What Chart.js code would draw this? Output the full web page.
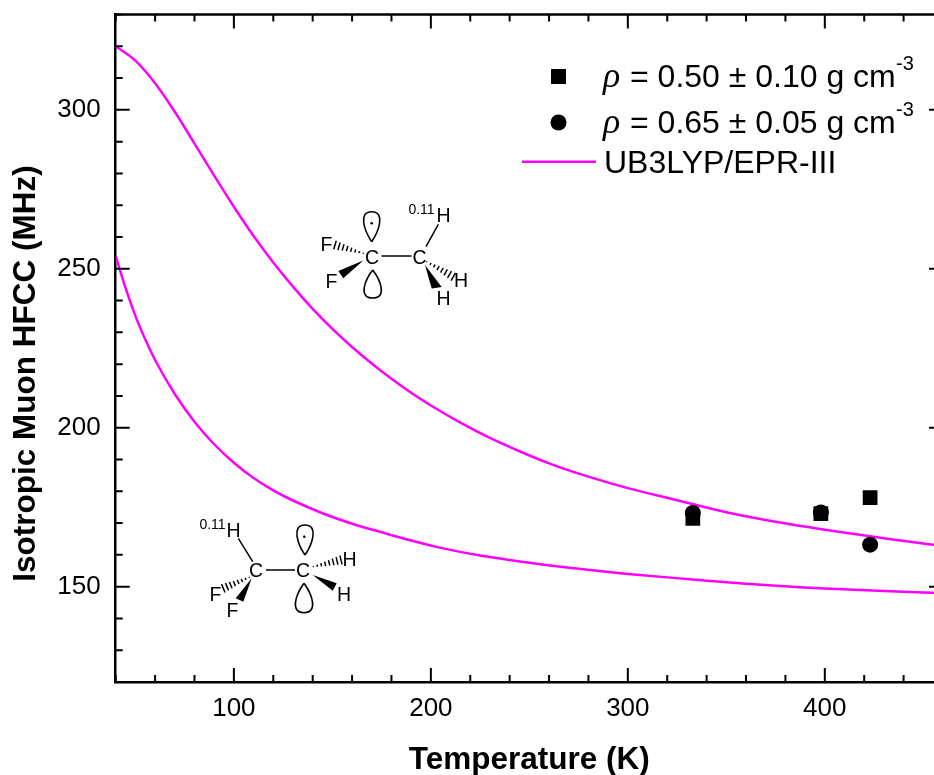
<!DOCTYPE html>
<html>
<head>
<meta charset="utf-8">
<title>Isotropic Muon HFCC</title>
<script src="https://cdn.jsdelivr.net/npm/chart.js@4"></script>
<style>
    html, body { margin: 0; padding: 0; background: #fff; overflow: hidden; }
    #wrap { width: 934px; height: 775px; overflow: hidden; }
    canvas { display: block; }
</style>
</head>
<body>
<div id="wrap"><canvas id="hfcc-chart" width="960" height="775"></canvas></div>
<script>
// values
const squareTemps = [333, 398, 423];
const squareHfcc = [171.5, 173, 178];
const circleTemps = [333, 398, 423];
const circleHfcc = [173.2, 173.3, 163.2];

const upperTemps = [40, 50, 60, 70, 80, 90, 100, 110, 120, 130, 140, 150, 160, 170, 180, 190, 200, 215, 230, 245, 260, 280, 300, 325, 350, 375, 400, 430, 460];
const upperHfcc = [320, 315.5, 308.4, 299.4, 289.4, 279.3, 269.5, 260.3, 252, 244.4, 237.4, 231.1, 225.4, 220.2, 215.4, 211, 207, 201.6, 196.8, 192.6, 188.8, 184.6, 181, 177.2, 173.4, 170.4, 167.9, 165.2, 162.8];
const lowerTemps = [40, 45, 50, 55, 60, 70, 80, 90, 100, 110, 120, 130, 145, 160, 175, 190, 205, 225, 250, 275, 300, 330, 360, 400, 430, 460];
const lowerHfcc = [254, 244, 235.2, 227.8, 221.3, 210.6, 201.9, 194.8, 189, 184.2, 180.3, 177.1, 173.1, 169.8, 167.1, 164.5, 162.2, 159.8, 157.5, 155.6, 154, 152.4, 150.9, 149.4, 148.6, 148];

const xLabelTicks = [100, 200, 300, 400];
const yLabelTicks = [150, 200, 250, 300];

const sans = '"Liberation Sans", Arial, sans-serif';
const magenta = '#ff00ff';

function pairs(xs, ys) {
    return xs.map((x, i) => ({ x: x, y: ys[i] }));
}

function label(c, text, x, y, size, align) {
    c.font = size + 'px ' + sans;
    c.textAlign = align || 'center';
    c.textBaseline = 'alphabetic';
    c.fillText(text, x, y);
}

// inward ticks on all four sides, plus the top and right frame lines
const frame = {
    id: 'frame',
    afterDraw(chart) {
        const c = chart.ctx;
        const a = chart.chartArea;
        const xs = chart.scales.x;
        const ys = chart.scales.y;
        c.save();
        c.strokeStyle = '#000';
        c.lineWidth = 2.5;
        c.beginPath();
        c.moveTo(a.left, a.top);
        c.lineTo(a.right, a.top);
        c.lineTo(a.right, a.bottom);
        c.stroke();
        c.lineWidth = 2;
        c.beginPath();
        xs.ticks.forEach(t => {
            const len = xLabelTicks.includes(t.value) ? 14 : 7;
            const px = xs.getPixelForValue(t.value);
            c.moveTo(px, a.bottom);
            c.lineTo(px, a.bottom - len);
            c.moveTo(px, a.top);
            c.lineTo(px, a.top + len);
        });
        ys.ticks.forEach(t => {
            const len = yLabelTicks.includes(t.value) ? 14 : 7;
            const py = ys.getPixelForValue(t.value);
            c.moveTo(a.left, py);
            c.lineTo(a.left + len, py);
            c.moveTo(a.right, py);
            c.lineTo(a.right - len, py);
        });
        c.stroke();

        // y title sits below the axis centre in the original
        c.fillStyle = '#000';
        c.translate(26, 373.5);
        c.rotate(-Math.PI / 2);
        c.font = 'bold 31.5px ' + sans;
        c.textAlign = 'center';
        c.textBaseline = 'middle';
        c.fillText('Isotropic Muon HFCC (MHz)', 0, 0);
        c.restore();
    }
};

// legend rows, the rho and the superscript do not fit the built-in legend
function legendRow(c, x, y, value) {
    c.fillStyle = '#000';
    c.font = 'italic 36px "Liberation Serif", serif';
    c.textAlign = 'left';
    c.textBaseline = 'alphabetic';
    c.fillText('\u03c1', 603, y);
    label(c, '= ' + value + ' g cm', x, y, 32, 'left');
    label(c, '-3', 896, y - 17, 20, 'left');
}

const legendBox = {
    id: 'legendBox',
    afterDraw(chart) {
        const c = chart.ctx;
        c.save();
        c.fillStyle = '#000';
        c.fillRect(551, 69, 15, 15);
        c.beginPath();
        c.arc(558.5, 122.5, 8, 0, Math.PI * 2);
        c.fill();
        c.strokeStyle = magenta;
        c.lineWidth = 2.5;
        c.beginPath();
        c.moveTo(522, 161.7);
        c.lineTo(596, 161.7);
        c.stroke();
        legendRow(c, 630, 87, '0.50 \u00b1 0.10');
        legendRow(c, 630, 133, '0.65 \u00b1 0.05');
        label(c, 'UB3LYP/EPR-III', 604, 173, 32, 'left');
        c.restore();
    }
};

function line(c, x1, y1, x2, y2) {
    c.beginPath();
    c.moveTo(x1, y1);
    c.lineTo(x2, y2);
    c.stroke();
}

function wedge(c, tx, ty, ax, ay, bx, by) {
    c.beginPath();
    c.moveTo(tx, ty);
    c.lineTo(ax, ay);
    c.lineTo(bx, by);
    c.closePath();
    c.fill();
}

function hash(c, x1, y1, x2, y2, count, width) {
    const dx = x2 - x1;
    const dy = y2 - y1;
    const len = Math.hypot(dx, dy);
    c.lineWidth = 1.5;
    for (let i = 0; i < count; i++) {
        const f = i / (count - 1);
        const px = x1 + dx * f;
        const py = y1 + dy * f;
        const h = 0.5 + (width / 2) * f;
        line(c, px - dy / len * h, py + dx / len * h, px + dy / len * h, py - dx / len * h);
    }
}

// teardrop orbital, pointed at (tipX, tipY), round at the far end
function lobe(c, tipX, tipY, endY, halfW) {
    const h = endY - tipY;
    c.lineWidth = 1.6;
    c.beginPath();
    c.moveTo(tipX, tipY);
    c.bezierCurveTo(tipX - halfW * 0.9, tipY + h * 0.35, tipX - halfW * 1.75, endY, tipX, endY);
    c.bezierCurveTo(tipX + halfW * 1.75, endY, tipX + halfW * 0.9, tipY + h * 0.35, tipX, tipY);
    c.stroke();
}

const molecules = {
    id: 'molecules',
    afterDraw(chart) {
        const c = chart.ctx;
        c.save();
        c.fillStyle = '#000';
        c.strokeStyle = '#000';

        // upper radical
        label(c, 'C', 372, 263.5, 19.5);
        label(c, 'C', 419.5, 263.5, 19.5);
        label(c, 'F', 326.5, 250.5, 19.5);
        label(c, 'F', 331.5, 287.5, 19.5);
        label(c, 'H', 443.5, 222, 19.5);
        label(c, '0.11', 421.5, 214, 14);
        label(c, 'H', 461, 287, 19.5);
        label(c, 'H', 443.5, 304.5, 19.5);
        c.lineWidth = 1.5;
        line(c, 381.5, 256, 411.5, 256);
        line(c, 438.3, 224.3, 426, 246.7);
        wedge(c, 363.3, 260.5, 338.3, 271, 343.3, 278.3);
        wedge(c, 425, 265, 431.7, 288.5, 441.7, 287);
        hash(c, 363.3, 253.3, 335, 245, 8, 8);
        hash(c, 426.7, 261.7, 453.3, 276.7, 8, 8);
        lobe(c, 371.7, 241.7, 211.7, 8);
        lobe(c, 372.7, 270, 298, 8.5);
        c.beginPath();
        c.arc(371.7, 223.3, 1.3, 0, Math.PI * 2);
        c.fill();

        // lower radical
        label(c, 'C', 256, 577, 19.5);
        label(c, 'C', 303, 577, 19.5);
        label(c, 'F', 215.5, 600.5, 19.5);
        label(c, 'F', 232.5, 616.5, 19.5);
        label(c, 'H', 233.5, 536.5, 19.5);
        label(c, '0.11', 212.5, 529, 14);
        label(c, 'H', 349.5, 565.5, 19.5);
        label(c, 'H', 344, 600.5, 19.5);
        c.lineWidth = 1.5;
        line(c, 266, 570, 295, 570);
        line(c, 238.3, 538.3, 252.7, 561.7);
        wedge(c, 251.7, 578.3, 235.7, 598.3, 243.3, 601.7);
        wedge(c, 312.7, 575, 336.7, 583.3, 332.7, 590.7);
        hash(c, 249.3, 577.3, 223.3, 588.3, 8, 8);
        hash(c, 313.3, 566.7, 341, 560, 8, 8);
        lobe(c, 305, 555, 525, 8);
        lobe(c, 304, 583.3, 612.7, 8.5);
        c.beginPath();
        c.arc(304.3, 536.7, 1.3, 0, Math.PI * 2);
        c.fill();
        c.restore();
    }
};

new Chart(document.getElementById('hfcc-chart'), {
    type: 'scatter',
    data: {
        datasets: [
            {
                label: 'rho 0.50',
                data: pairs(squareTemps, squareHfcc),
                pointStyle: 'rect',
                pointRadius: 10.4,
                backgroundColor: '#000',
                borderWidth: 0,
                showLine: false
            },
            {
                label: 'rho 0.65',
                data: pairs(circleTemps, circleHfcc),
                pointStyle: 'circle',
                pointRadius: 8,
                backgroundColor: '#000',
                borderWidth: 0,
                showLine: false
            },
            {
                label: 'UB3LYP/EPR-III',
                data: pairs(upperTemps, upperHfcc),
                showLine: true,
                pointRadius: 0,
                borderColor: magenta,
                borderWidth: 2.5,
                cubicInterpolationMode: 'monotone'
            },
            {
                label: 'UB3LYP/EPR-III lower',
                data: pairs(lowerTemps, lowerHfcc),
                showLine: true,
                pointRadius: 0,
                borderColor: magenta,
                borderWidth: 2.5,
                cubicInterpolationMode: 'monotone'
            }
        ]
    },
    options: {
        responsive: false,
        animation: false,
        layout: { padding: { left: 0, top: 14.5, right: 17, bottom: 0 } },
        plugins: { legend: { display: false }, tooltip: { enabled: false } },
        scales: {
            x: {
                type: 'linear',
                min: 40,
                max: 460,
                afterFit(scale) { scale.height = 93; scale.paddingLeft = 0; scale.paddingRight = 0; },
                grid: { display: false },
                border: { display: true, color: '#000', width: 2.5 },
                ticks: {
                    stepSize: 20,
                    autoSkip: false,
                    maxRotation: 0,
                    padding: 3,
                    color: '#000',
                    font: { family: sans, size: 26 },
                    callback: v => xLabelTicks.includes(v) ? String(v) : ''
                },
                title: {
                    display: true,
                    text: 'Temperature (K)',
                    color: '#000',
                    padding: { top: 0, bottom: -4 },
                    font: { family: sans, size: 31.5, weight: 'bold' }
                }
            },
            y: {
                type: 'linear',
                min: 120,
                max: 330,
                afterFit(scale) { scale.width = 115.7; scale.paddingTop = 0; scale.paddingBottom = 0; },
                grid: { display: false },
                border: { display: true, color: '#000', width: 2.5 },
                ticks: {
                    stepSize: 10,
                    autoSkip: false,
                    padding: 7,
                    color: '#000',
                    font: { family: sans, size: 26 },
                    callback: v => yLabelTicks.includes(v) ? String(v) : ''
                }
            }
        }
    },
    plugins: [frame, legendBox, molecules]
});
</script>
</body>
</html>
